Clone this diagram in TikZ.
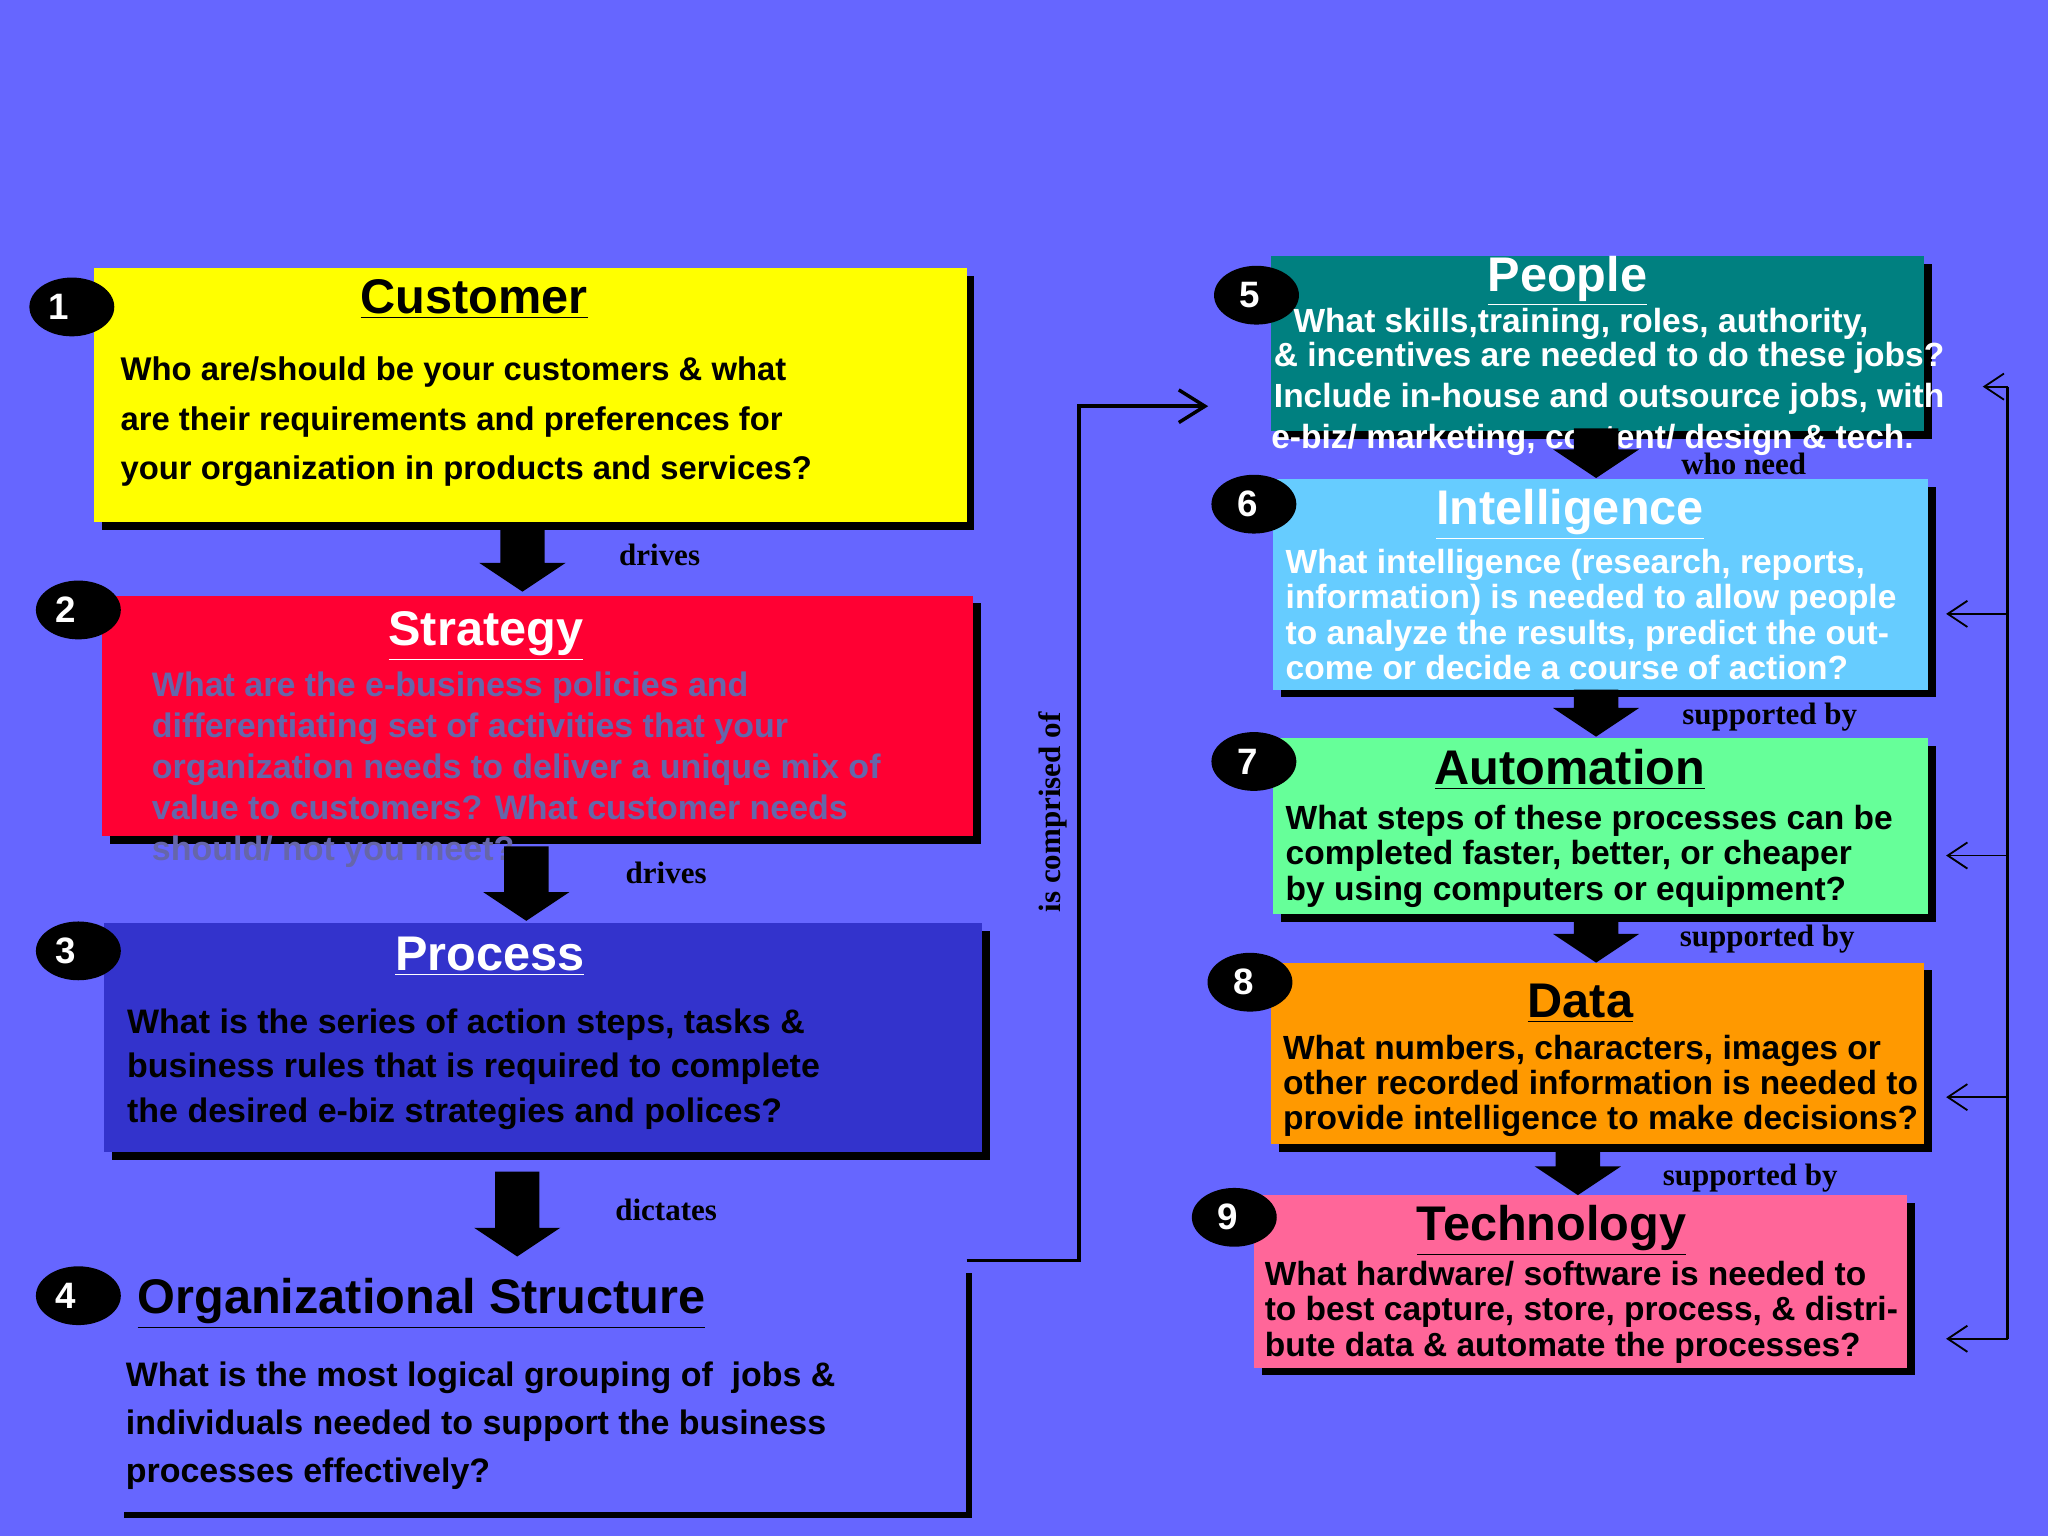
\documentclass[tikz,border=0pt]{standalone}
\usepackage{fontspec}
\setmainfont{Liberation Sans}
\newfontfamily\labserif{Liberation Serif}
\usetikzlibrary{arrows.meta,shapes.geometric,calc}
\definecolor{bg}{RGB}{102,102,255}
\definecolor{cyel}{RGB}{255,255,0}
\definecolor{cred}{RGB}{255,0,51}
\definecolor{cproc}{RGB}{51,51,204}
\definecolor{cteal}{RGB}{0,128,128}
\definecolor{csky}{RGB}{102,204,255}
\definecolor{cmint}{RGB}{102,255,153}
\definecolor{corg}{RGB}{255,153,0}
\definecolor{cpink}{RGB}{255,102,153}
\definecolor{cgrey}{RGB}{102,102,170}
\tikzset{
  num/.style={ellipse,fill=black,text=white,font=\bfseries\fontsize{16}{16}\selectfont,minimum width=13mm,minimum height=9mm,inner sep=0pt},
  ttl/.style={font=\bfseries\fontsize{21.2}{22}\selectfont,inner sep=0pt},
  body/.style={font=\bfseries\fontsize{14.8}{#1}\selectfont,align=left,anchor=north west,inner sep=0pt},
  nbody/.style={font=\bfseries\fontsize{14.6}{#1}\selectfont,align=left,anchor=north west,inner sep=0pt},
  lab/.style={font=\labserif\bfseries\fontsize{13.5}{14}\selectfont,inner sep=0pt},
  fat/.style={fill=black,draw=none},
  fb/.style={line width=0.8pt,-{Straight Barb[length=3mm,width=4mm]}}
}
% name, fill, top-left, bottom-right
\newcommand{\shbox}[4]{%
  \fill[black] ($(#3)+(6,6)$) rectangle ($(#4)+(6,6)$);
  \fill[#2] (#3) rectangle (#4);
  \coordinate (#1) at (#3);}
% x, ytop, ybot
\newcommand{\fatarrow}[3]{%
  \fill[fat] (#1-17,#2) -- (#1+17,#2) -- (#1+17,#3-22) -- (#1+33,#3-22) -- (#1,#3) -- (#1-33,#3-22) -- (#1-17,#3-22) -- cycle;}
\begin{document}
\begin{tikzpicture}[x=0.2mm,y=-0.2mm]
\useasboundingbox (0,0) rectangle (1568,1176);
\fill[bg] (0,0) rectangle (1568,1176);

% boxes
\shbox{b1}{cyel}{72,205}{740,400}
\shbox{b2}{cred}{78,456}{745,640}
\shbox{b3}{cproc}{80,707}{752,882}
\shbox{b5}{cteal}{973,196}{1473,330}
\shbox{b6}{csky}{975,367}{1476,528}
\shbox{b7}{cmint}{975,565}{1476,700}
\shbox{b8}{corg}{973,737}{1473,876}
\shbox{b9}{cpink}{960,915}{1460,1047}

% org structure frame
\draw[line width=2.5pt] (95,1160) -- (742,1160) -- (742,975);
\coordinate (oj) at (740,965);
\coordinate (pe) at (925,311);
\draw[line width=1.5pt,-{Straight Barb[length=4mm,width=5mm]}] (oj) -- (826,965) -- (826,311) -- (pe);
\node[lab,rotate=90] (comp) at (806,622) {is comprised of};

% numbers
\node[num] (n1) at (55,235) {\hspace*{-4mm}1};
\node[num] (n2) at (60,467) {\hspace*{-4mm}2};
\node[num] (n3) at (60,728) {\hspace*{-4mm}3};
\node[num] (n4) at (60,992) {\hspace*{-4mm}4};
\node[num] (n5) at (962,226) {\hspace*{-2mm}5};
\node[num] (n6) at (960,386) {\hspace*{-2mm}6};
\node[num] (n7) at (960,583) {\hspace*{-2mm}7};
\node[num] (n8) at (957,752) {\hspace*{-2mm}8};
\node[num] (n9) at (945,932) {\hspace*{-2mm}9};

% titles
\node[ttl] (t1) at (363,229) {\underline{Customer}};
\node[ttl,text=white] (t2) at (372,487) {\underline{Strategy}};
\node[ttl,text=white] (t3) at (375,732) {\underline{Process}};
\node[ttl,anchor=west] (t4) at (105,998) {\underline{Organizational Structure}};
\node[ttl,text=white] (t5) at (1200,215) {\underline{People}};
\node[ttl,text=white] (t6) at (1202,394) {\underline{Intelligence}};
\node[ttl] (t7) at (1202,589) {\underline{Automation}};
\node[ttl] (t8) at (1210,768) {\underline{Data}};
\node[ttl] (t9) at (1188,942) {\underline{Technology}};

% bodies
\node[body=21.6,font=\bfseries\fontsize{14.3}{21.6}\selectfont] (d1) at (92,273) {Who are/should be your customers \& what\\are their requirements and preferences for\\your organization in products and services?};
\node[body=17.9,text=cgrey] (d2) at (116,514) {What are the e-business policies and\\differentiating set of activities that your\\organization needs to deliver a unique mix of\\value to customers? What customer needs\\should/ not you meet?};
\node[body=19.4] (d3) at (97,772) {What is the series of action steps, tasks \&\\business rules that is required to complete\\the desired e-biz strategies and polices?};
\node[body=21] (d4) at (96,1042) {What is the most logical grouping of\ \ jobs \&\\individuals needed to support the business\\processes effectively?};
\node[nbody=15,text=white,anchor=west] (d5a) at (990,248) {What skills,training, roles, authority,};
\node[nbody=15,text=white,anchor=west] (d5b) at (975,274) {\& incentives are needed to do these jobs?};
\node[nbody=15,text=white,anchor=west] (d5c) at (975,305) {Include in-house and outsource jobs, with};
\node[nbody=15,text=white,anchor=west] (d5d) at (973,337) {e-biz/ marketing, content/ design \& tech.};
\node[nbody=15.4,text=white] (d6) at (984,420) {What intelligence (research, reports,\\information) is needed to allow people\\to analyze the results, predict the out-\\come or decide a course of action?};
\node[nbody=15.4] (d7) at (984,616) {What steps of these processes can be\\completed faster, better, or cheaper\\by using computers or equipment?};
\node[nbody=15.4] (d8) at (982,792) {What numbers, characters, images or\\other recorded information is needed to\\provide intelligence to make decisions?};
\node[nbody=15.6] (d9) at (968,965) {What hardware/ software is needed to\\to best capture, store, process, \& distri-\\bute data \& automate the processes?};

% fat arrows
\fatarrow{400}{405}{453}
\fatarrow{403}{648}{705}
\fatarrow{396}{897}{962}
\fatarrow{1222}{328}{366}
\fatarrow{1222}{528}{564}
\fatarrow{1222}{700}{737}
\fatarrow{1208}{878}{915}
\node[lab] (l1) at (505,425) {drives};
\node[lab] (l2) at (510,668) {drives};
\node[lab] (l3) at (510,926) {dictates};
\node[lab] (l4) at (1335,355) {who need};
\node[lab] (l5) at (1355,549) {supported by};
\node[lab] (l6) at (1353,719) {supported by};
\node[lab] (l7) at (1340,902) {supported by};

% feedback line
\coordinate (r0) at (1537,296);
\coordinate (r4) at (1537,1025);
\draw[line width=1pt] (r0) -- (r4);
\draw[fb] (r0) -- (1518,296);
\draw[fb] (1537,470) -- (1490,470);
\draw[fb] (1537,655) -- (1490,655);
\draw[fb] (1537,840) -- (1490,840);
\draw[fb] (r4) -- (1490,1025);
\end{tikzpicture}
\end{document}
